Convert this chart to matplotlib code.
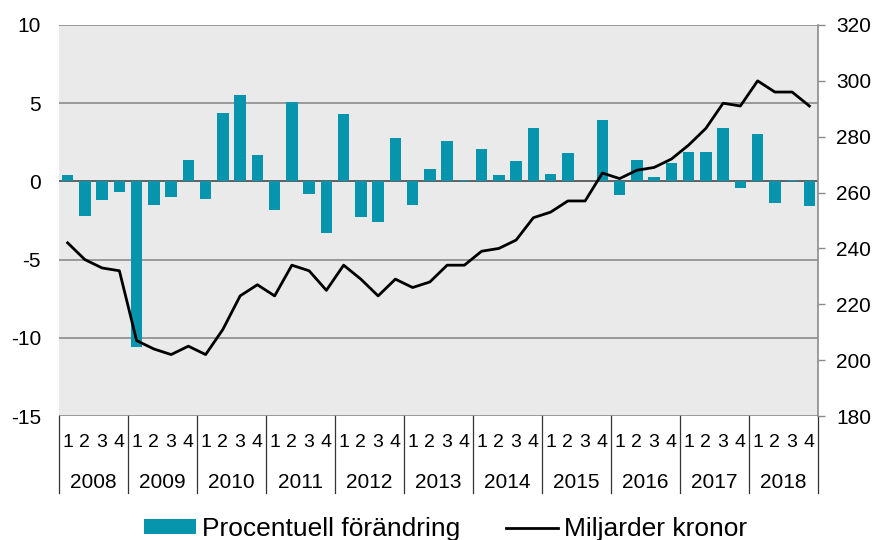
import numpy as np
import matplotlib
matplotlib.use("Agg")
import matplotlib.pyplot as plt
import matplotlib.transforms as mtransforms
from matplotlib.patches import Patch
from matplotlib.lines import Line2D

plt.rcParams["font.family"] = ["Liberation Sans", "DejaVu Sans"]
plt.rcParams["axes.unicode_minus"] = False

# Data: quarterly values 2008 Q1 - 2018 Q4
years = ["2008", "2009", "2010", "2011", "2012", "2013",
         "2014", "2015", "2016", "2017", "2018"]
quarters = ["1", "2", "3", "4"]

# Procentuell förändring (left axis)
pct_change = [0.4, -2.2, -1.2, -0.7,
              -10.6, -1.5, -1.0, 1.4,
              -1.1, 4.4, 5.5, 1.7,
              -1.8, 5.1, -0.8, -3.3,
              4.3, -2.3, -2.6, 2.8,
              -1.5, 0.8, 2.6, 0.1,
              2.1, 0.4, 1.3, 3.4,
              0.5, 1.8, 0.0, 3.9,
              -0.9, 1.4, 0.3, 1.2,
              1.9, 1.9, 3.4, -0.4,
              3.0, -1.4, 0.1, -1.6]

# Miljarder kronor (right axis)
billions = [242, 236, 233, 232,
            207, 204, 202, 205,
            202, 211, 223, 227,
            223, 234, 232, 225,
            234, 229, 223, 229,
            226, 228, 234, 234,
            239, 240, 243, 251,
            253, 257, 257, 267,
            265, 268, 269, 272,
            277, 283, 292, 291,
            300, 296, 296, 291]

bar_color = "#0795AE"
bg_color = "#EAEAEA"
grid_color = "#8C8C8C"

fig = plt.figure(figsize=(8.73, 5.40), dpi=100)
ax = fig.add_axes([59 / 873, 124 / 540, 759 / 873, 391 / 540])
ax.set_facecolor(bg_color)

x = np.arange(len(pct_change))
ax.bar(x, pct_change, width=0.68, color=bar_color, zorder=3)

ax.set_xlim(-0.5, len(x) - 0.5)
ax.set_ylim(-15, 10)
ax.set_yticks([-15, -10, -5, 0, 5, 10])
ax.yaxis.grid(True, color=grid_color, linewidth=1.2, zorder=1)
ax.axhline(0, color="#5A5A5A", linewidth=1.2, zorder=2)
ax.set_axisbelow(True)
for side in ["top", "left", "bottom", "right"]:
    ax.spines[side].set_visible(False)
ax.tick_params(axis="y", length=0, pad=13, labelsize=15)

# quarter labels
ax.set_xticks(x)
ax.set_xticklabels(quarters * len(years))
ax.tick_params(axis="x", length=0, pad=13, labelsize=14)

# year labels and separators
trans = mtransforms.blended_transform_factory(ax.transData, ax.transAxes)
for i, yr in enumerate(years):
    ax.text(4 * i + 1.5, -0.171, yr, transform=trans, ha="center",
            va="center", fontsize=15)
for k in range(len(years) + 1):
    ax.plot([4 * k - 0.5, 4 * k - 0.5], [0, -0.197], transform=trans,
            color="#333333", linewidth=0.9, clip_on=False)

# right axis line
ax2 = ax.twinx()
ax2.plot(x, billions, color="black", linewidth=2, zorder=4)
ax2.set_ylim(180, 320)
ax2.set_yticks(range(180, 321, 20))
for side in ["top", "left", "bottom"]:
    ax2.spines[side].set_visible(False)
ax2.spines["right"].set_color(grid_color)
ax2.spines["right"].set_linewidth(1.2)
ax2.tick_params(axis="y", length=5, width=1, color=grid_color, pad=8,
                labelsize=15)

handles = [Patch(facecolor=bar_color, edgecolor="none"),
           Line2D([0], [0], color="black", linewidth=2)]
fig.legend(handles, ["Procentuell förändring", "Miljarder kronor"],
           loc="center", bbox_to_anchor=(0.51, 0.02), ncol=2, frameon=False,
           fontsize=19, handlelength=1.97, handleheight=0.49,
           handletextpad=0.22, columnspacing=1.74)

fig.savefig("out.png", dpi=100)
